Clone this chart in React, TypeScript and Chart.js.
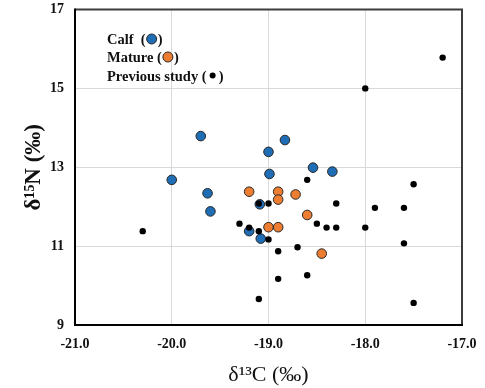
import React, { useEffect, useRef } from "react";
import { Chart, registerables } from "chart.js";

Chart.register(...registerables);

const calfX = [-19.7, -18.83, -19.0, -18.54, -18.34, -18.99, -20.0, -19.63, -19.6, -19.09, -19.2, -19.08];
const calfY = [13.79, 13.69, 13.39, 12.99, 12.89, 12.83, 12.68, 12.34, 11.88, 12.06, 11.38, 11.19];

const matureX = [-19.2, -18.9, -18.9, -18.72, -18.6, -19.0, -18.9, -18.45];
const matureY = [12.38, 12.38, 12.18, 12.31, 11.79, 11.48, 11.48, 10.81];

const prevX = [-17.2, -18.0, -20.3, -18.6, -17.5, -19.1, -19.0, -18.3, -17.9, -17.6, -19.3, -19.2, -19.1, -19.0, -18.5, -18.4, -18.3, -18.0, -18.7, -18.9, -17.6, -18.6, -18.9, -19.1, -17.5];
const prevY = [15.78, 15.0, 11.38, 12.68, 12.57, 12.08, 12.08, 12.08, 11.97, 11.97, 11.57, 11.47, 11.38, 11.17, 11.57, 11.47, 11.47, 11.47, 10.97, 10.87, 11.07, 10.26, 10.17, 9.66, 9.56];

const seriesNames = ["Calf", "Mature", "Previous study"];
const xTitle = "δ¹³C (‰)";
const yTitle = "δ¹⁵N (‰)";

const BLUE = "#1f6db4";
const ORANGE = "#ed7d31";
const SERIF = "'Liberation Serif', 'Times New Roman', serif";

const toPts = (xs: number[], ys: number[]) => xs.map((x, i) => ({ x, y: ys[i] }));

const framePlugin = {
  id: "frame",
  afterDraw(chart: any) {
    const { ctx, chartArea } = chart;
    const { left, right, top, bottom } = chartArea;
    ctx.save();
    ctx.strokeStyle = "#3c3c3c";
    ctx.lineWidth = 2;
    ctx.beginPath();
    ctx.moveTo(left, top);
    ctx.lineTo(right, top);
    ctx.lineTo(right, bottom);
    ctx.stroke();
    ctx.strokeStyle = "#000";
    ctx.beginPath();
    ctx.moveTo(left, top - 1);
    ctx.lineTo(left, bottom);
    ctx.lineTo(right + 1, bottom);
    ctx.stroke();

    // legend
    ctx.font = `bold 14.5px ${SERIF}`;
    ctx.fillStyle = "#111";
    ctx.textBaseline = "alphabetic";
    const x0 = chartArea.left + 32;
    const rows = [
      { label: seriesNames[0] + "  (", y: 44, color: BLUE, r: 5, border: true },
      { label: seriesNames[1] + " (", y: 62, color: ORANGE, r: 5, border: true },
      { label: seriesNames[2] + " (", y: 80.5, color: "#000", r: 3, border: false },
    ];
    rows.forEach((row) => {
      ctx.fillStyle = "#111";
      ctx.fillText(row.label, x0, row.y);
      const w = ctx.measureText(row.label).width;
      const cx = x0 + w + 6;
      const cy = row.y - 5;
      ctx.beginPath();
      ctx.arc(cx, cy, row.r, 0, Math.PI * 2);
      ctx.fillStyle = row.color;
      ctx.fill();
      if (row.border) {
        ctx.lineWidth = 1;
        ctx.strokeStyle = "#262626";
        ctx.stroke();
      }
      ctx.fillStyle = "#111";
      ctx.fillText(")", cx + 6, row.y);
    });
    ctx.restore();
  },
};

export default function App() {
  const ref = useRef<HTMLCanvasElement | null>(null);
  useEffect(() => {
    if (!ref.current) return;
    const chart = new Chart(ref.current, {
      type: "scatter",
      data: {
        datasets: [
          {
            label: seriesNames[2],
            data: toPts(prevX, prevY),
            backgroundColor: "#000",
            borderColor: "#000",
            borderWidth: 0,
            pointRadius: 3.2,
            order: 0,
          },
          {
            label: seriesNames[1],
            data: toPts(matureX, matureY),
            backgroundColor: ORANGE,
            borderColor: "#262626",
            borderWidth: 1,
            pointRadius: 4.8,
            order: 1,
          },
          {
            label: seriesNames[0],
            data: toPts(calfX, calfY),
            backgroundColor: BLUE,
            borderColor: "#262626",
            borderWidth: 1,
            pointRadius: 4.8,
            order: 2,
          },
        ],
      },
      options: {
        responsive: false,
        animation: false,
        layout: { padding: { left: 0, right: 23, top: 9.5, bottom: 0 } },
        plugins: { legend: { display: false }, tooltip: { enabled: false } },
        scales: {
          x: {
            type: "linear",
            min: -21,
            max: -17,
            afterFit: (s: any) => {
              s.height = 63;
              s.paddingLeft = 0;
              s.paddingRight = 0;
            },
            ticks: {
              stepSize: 1,
              padding: 11,
              color: "#111",
              font: { family: SERIF, size: 14, weight: "bold" },
              callback: (v: any) => Number(v).toFixed(1),
            },
            grid: { color: "#d9d9d9", lineWidth: 1, drawTicks: false },
            border: { display: true, color: "#000", width: 2 },
            title: {
              display: true,
              text: xTitle,
              color: "#111",
              font: { family: SERIF, size: 22, weight: "normal", lineHeight: 1.2 },
              padding: { top: 0, bottom: 0 },
            },
          },
          y: {
            type: "linear",
            min: 9,
            max: 17,
            afterFit: (s: any) => {
              s.width = 75;
              s.paddingTop = 0;
              s.paddingBottom = 0;
            },
            ticks: {
              stepSize: 2,
              padding: 11,
              color: "#111",
              font: { family: SERIF, size: 14, weight: "bold" },
            },
            grid: { color: "#d9d9d9", lineWidth: 1, drawTicks: false },
            border: { display: true, color: "#000", width: 2 },
            title: {
              display: true,
              text: yTitle,
              color: "#111",
              font: { family: SERIF, size: 23, weight: "bold", lineHeight: 1.2 },
              padding: { top: 20, bottom: 0 },
            },
          },
        },
      },
      plugins: [framePlugin],
    });
    return () => chart.destroy();
  }, []);
  return (
    <div style={{ position: "absolute", left: 0, top: 0, width: 485, height: 388, background: "#fff" }}>
      <canvas ref={ref} width={485} height={388} />
    </div>
  );
}
